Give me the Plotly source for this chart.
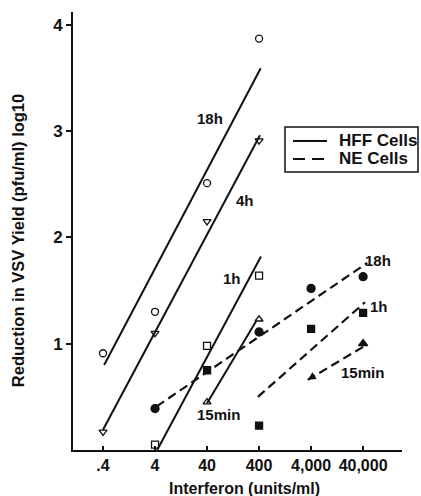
import math
import plotly.graph_objects as go

# ---- axis ticks ----
x_ticks = [0.4, 4, 40, 400, 4000, 40000]
x_ticklabels = [".4", "4", "40", "400", "4,000", "40,000"]
y_ticks = [1, 2, 3, 4]

# ---- HFF cells (open markers, solid regression lines) ----
hff_18h_x = [0.4, 4, 40, 400]
hff_18h_y = [0.91, 1.30, 2.51, 3.87]
hff_18h_fit_x = [0.42, 430]
hff_18h_fit_y = [0.80, 3.59]

hff_4h_x = [0.4, 4, 40, 400]
hff_4h_y = [0.17, 1.10, 2.15, 2.91]
hff_4h_fit_x = [0.4, 417]
hff_4h_fit_y = [0.19, 2.96]

hff_1h_x = [4, 40, 400]
hff_1h_y = [0.05, 0.98, 1.64]
hff_1h_fit_x = [4.4, 435]
hff_1h_fit_y = [0.0, 1.82]

hff_15m_x = [40, 400]
hff_15m_y = [0.45, 1.23]
hff_15m_fit_x = [40, 350]
hff_15m_fit_y = [0.44, 1.21]

# ---- NE cells (filled markers, dashed lines) ----
ne_18h_x = [4, 400, 4000, 40000]
ne_18h_y = [0.39, 1.11, 1.52, 1.63]
ne_18h_fit_x = [4.3, 48000]
ne_18h_fit_y = [0.41, 1.76]

ne_1h_x = [40, 400, 4000, 40000]
ne_1h_y = [0.75, 0.23, 1.14, 1.29]
ne_1h_fit_x = [380, 43600]
ne_1h_fit_y = [0.50, 1.39]

ne_15m_x = [40000]
ne_15m_y = [1.00]
ne_15m_arrow_x = [40000, 3450]
ne_15m_arrow_y = [0.97, 0.66]

legend_names = ["HFF Cells", "NE Cells"]

FONT = "Liberation Sans, Arial, Helvetica, sans-serif"
BLACK = "#111111"
DASH = "9px,5px"

fig = go.Figure()

def fit(x, y, dash=None, width=2):
    fig.add_trace(go.Scatter(x=x, y=y, mode="lines", showlegend=False,
                             line=dict(color=BLACK, width=width, dash=dash),
                             hoverinfo="skip", cliponaxis=False))

def pts(x, y, symbol, size=7, lw=1.3):
    fig.add_trace(go.Scatter(x=x, y=y, mode="markers", showlegend=False,
                             marker=dict(symbol=symbol, size=size, color=BLACK,
                                         line=dict(color=BLACK, width=lw)),
                             cliponaxis=False))

fit(hff_18h_fit_x, hff_18h_fit_y)
fit(hff_4h_fit_x, hff_4h_fit_y)
fit(hff_1h_fit_x, hff_1h_fit_y)
fit(hff_15m_fit_x, hff_15m_fit_y)
pts(hff_18h_x, hff_18h_y, "circle-open")
pts(hff_4h_x, hff_4h_y, "triangle-down-open")
pts(hff_1h_x, hff_1h_y, "square-open")
pts(hff_15m_x, hff_15m_y, "triangle-up-open")

fit(ne_18h_fit_x, ne_18h_fit_y, dash=DASH, width=2.2)
fit(ne_1h_fit_x, ne_1h_fit_y, dash=DASH, width=2.2)
fit(ne_15m_arrow_x, ne_15m_arrow_y, dash=DASH, width=2.2)
pts(ne_18h_x, ne_18h_y, "circle", size=8)
pts(ne_1h_x, ne_1h_y, "square", size=7)
pts(ne_15m_x, ne_15m_y, "triangle-up", size=8)

labels = [
    (1.66, 3.12, "18h"), (2.33, 2.35, "4h"), (2.08, 1.61, "1h"), (1.83, 0.33, "15min"),
    (4.89, 1.78, "18h"), (4.91, 1.35, "1h"), (4.60, 0.73, "15min"),
]
annotations = [dict(x=x, y=y, xref="x", yref="y", text=t, showarrow=False,
                    font=dict(size=15, color=BLACK, family=FONT, weight="bold"))
               for x, y, t in labels]
# arrowhead at the end of the NE 15min dashed line
annotations.append(dict(x=math.log10(ne_15m_arrow_x[-1]), y=ne_15m_arrow_y[-1],
                        xref="x", yref="y", text="", showarrow=True,
                        ax=8, ay=-5, arrowhead=2, arrowsize=0.8, arrowwidth=2,
                        arrowcolor=BLACK, standoff=0, startstandoff=0))
annotations.append(dict(x=0.52, y=-0.087, xref="paper", yref="paper",
                        text="Interferon (units/ml)", showarrow=False,
                        xanchor="center", yanchor="middle",
                        font=dict(size=16, color=BLACK, family=FONT, weight="bold")))
annotations.append(dict(x=-0.167, y=0.477, xref="paper", yref="paper",
                        text="Reduction in VSV Yield (pfu/ml) log10", showarrow=False,
                        textangle=-90, xanchor="center", yanchor="middle",
                        font=dict(size=16.5, color=BLACK, family=FONT, weight="bold")))
# legend texts
for yy, name in zip([0.7055, 0.6644], legend_names):
    annotations.append(dict(x=0.8024, y=yy, xref="paper", yref="paper", text=name,
                            showarrow=False, xanchor="left", yanchor="middle",
                            font=dict(size=17, color=BLACK, family=FONT, weight="bold")))

shapes = [
    dict(type="rect", xref="paper", yref="paper", x0=0.6444, x1=1.0486,
         y0=0.6347, y1=0.7374, line=dict(color=BLACK, width=1.5),
         fillcolor="white", layer="above"),
    dict(type="line", xref="paper", yref="paper", x0=0.6687, x1=0.7720,
         y0=0.7055, y1=0.7055, line=dict(color=BLACK, width=2)),
    dict(type="line", xref="paper", yref="paper", x0=0.6687, x1=0.7720,
         y0=0.6644, y1=0.6644, line=dict(color=BLACK, width=2, dash="12px,7px")),
]

fig.update_layout(
    width=421, height=496, autosize=False,
    margin=dict(l=73, r=19, t=12, b=46),
    plot_bgcolor="white", paper_bgcolor="white",
    showlegend=False,
    font=dict(family=FONT, color=BLACK, weight="bold"),
    annotations=annotations,
    shapes=shapes,
    xaxis=dict(type="log", range=[-0.975, 5.35], showgrid=False, zeroline=False,
               showline=True, linecolor=BLACK, linewidth=2,
               ticks="inside", ticklen=4, tickwidth=1.5, tickcolor=BLACK,
               tickvals=x_ticks, ticktext=x_ticklabels,
               tickfont=dict(size=16, family=FONT, color=BLACK, weight="bold")),
    yaxis=dict(range=[0, 4.12], showgrid=False, zeroline=False,
               showline=True, linecolor=BLACK, linewidth=2,
               ticks="outside", ticklen=5, tickwidth=1.5, tickcolor=BLACK,
               tickvals=y_ticks,
               tickfont=dict(size=17, family=FONT, color=BLACK, weight="bold")),
)

fig.write_html("out.html", config={"displayModeBar": False},
               post_script="document.body.style.margin='0px';"
                           "document.body.style.overflow='hidden';")
